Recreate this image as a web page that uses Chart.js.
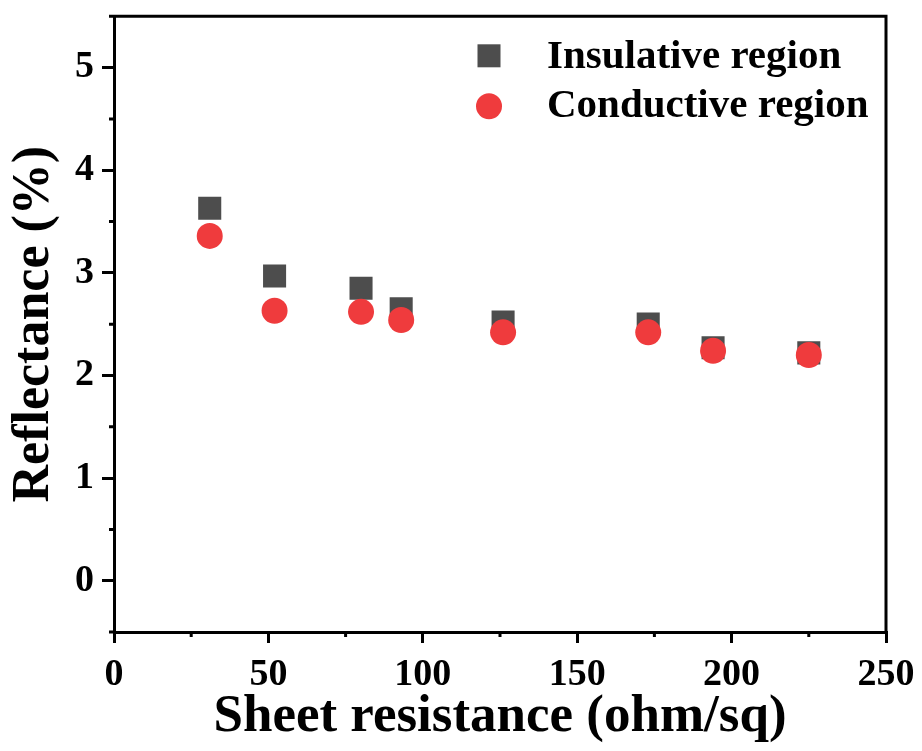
<!DOCTYPE html>
<html>
<head>
<meta charset="utf-8">
<script src="https://cdn.jsdelivr.net/npm/chart.js@4.4.0/dist/chart.umd.min.js"></script>
<style>
  html, body { margin: 0; padding: 0; background: #fff; }
  #wrap { width: 922px; height: 751px; }
</style>
</head>
<body>
<div id="wrap"><canvas id="chart" width="922" height="751"></canvas></div>
<script>
// data
const sheetRes = [31, 52, 80, 93, 126, 173, 194, 225];
const insulative = [3.63, 2.97, 2.85, 2.65, 2.52, 2.50, 2.27, 2.22];
const conductive = [3.36, 2.63, 2.62, 2.54, 2.42, 2.42, 2.24, 2.20];
const seriesNames = ["Insulative region", "Conductive region"];
const xTicks = [0, 50, 100, 150, 200, 250];
const yTicks = [0, 1, 2, 3, 4, 5];

const SERIF = "'Liberation Serif', 'DejaVu Serif', serif";
const GREY = '#4d4d4d';
const RED = '#ef3b3d';

function toPoints(xs, ys) {
    return xs.map((x, i) => ({ x: x, y: ys[i] }));
}

// top/right frame lines plus the small minor ticks
const framePlugin = {
    id: 'frame',
    afterDraw(chart) {
        const { ctx, chartArea: a, scales } = chart;
        ctx.save();
        ctx.strokeStyle = '#000';
        ctx.lineWidth = 3;
        ctx.beginPath();
        ctx.moveTo(a.left, a.top);
        ctx.lineTo(a.right, a.top);
        ctx.lineTo(a.right, a.bottom);
        ctx.stroke();

        // minor ticks halfway between majors
        ctx.beginPath();
        for (let i = 0; i < xTicks.length - 1; i++) {
            const px = scales.x.getPixelForValue((xTicks[i] + xTicks[i + 1]) / 2);
            ctx.moveTo(px, a.bottom);
            ctx.lineTo(px, a.bottom + 5);
        }
        const yMinor = [yTicks[0] - 0.5].concat(yTicks.map(v => v + 0.5));
        yMinor.forEach(v => {
            const py = scales.y.getPixelForValue(v);
            ctx.moveTo(a.left, py);
            ctx.lineTo(a.left - 5, py);
        });
        ctx.stroke();
        ctx.restore();
    }
};

// legend sitting inside the plot, top right
const legendPlugin = {
    id: 'insideLegend',
    afterDraw(chart) {
        const { ctx, chartArea: a } = chart;
        const mx = a.right - 397;
        const tx = a.right - 339;
        ctx.save();
        ctx.fillStyle = GREY;
        ctx.fillRect(mx - 11.5, a.top + 28, 23, 23);
        ctx.fillStyle = RED;
        ctx.beginPath();
        ctx.arc(mx, a.top + 90, 13, 0, Math.PI * 2);
        ctx.fill();
        ctx.fillStyle = '#000';
        ctx.font = 'bold 41px ' + SERIF;
        ctx.textBaseline = 'alphabetic';
        ctx.textAlign = 'left';
        ctx.fillText(seriesNames[0], tx, a.top + 52);
        ctx.fillText(seriesNames[1], tx, a.top + 101);
        ctx.restore();
    }
};

new Chart(document.getElementById('chart'), {
    type: 'scatter',
    data: {
        datasets: [
            {
                label: seriesNames[0],
                data: toPoints(sheetRes, insulative),
                pointStyle: 'rect',
                pointRadius: 16.3,
                backgroundColor: GREY,
                borderWidth: 0,
                order: 2
            },
            {
                label: seriesNames[1],
                data: toPoints(sheetRes, conductive),
                pointStyle: 'circle',
                pointRadius: 13,
                backgroundColor: RED,
                borderWidth: 0,
                order: 1
            }
        ]
    },
    options: {
        responsive: false,
        animation: false,
        events: [],
        layout: { padding: { top: 12, right: 36, left: 0, bottom: 0 } },
        plugins: {
            legend: { display: false },
            tooltip: { enabled: false }
        },
        scales: {
            x: {
                type: 'linear',
                min: 0,
                max: 250,
                afterFit(scale) {
                    scale.height = 119;
                    scale.paddingLeft = 0;
                    scale.paddingRight = 0;
                },
                afterBuildTicks(scale) {
                    scale.ticks = xTicks.map(v => ({ value: v }));
                },
                grid: { drawOnChartArea: false, color: '#000', lineWidth: 3, tickLength: 11 },
                border: { color: '#000', width: 3 },
                ticks: {
                    color: '#000',
                    padding: 9,
                    maxRotation: 0,
                    font: { family: SERIF, size: 38, weight: 'bold' }
                },
                title: {
                    display: true,
                    text: 'Sheet resistance (ohm/sq)',
                    color: '#000',
                    padding: { top: 0, bottom: 2 },
                    font: { family: SERIF, size: 53, weight: 'bold' }
                }
            },
            y: {
                type: 'linear',
                min: -0.5,
                max: 5.5,
                afterFit(scale) {
                    scale.width = 114;
                    scale.paddingTop = 0;
                    scale.paddingBottom = 0;
                },
                afterBuildTicks(scale) {
                    scale.ticks = yTicks.map(v => ({ value: v }));
                },
                grid: { drawOnChartArea: false, color: '#000', lineWidth: 3, tickLength: 12 },
                border: { color: '#000', width: 3 },
                ticks: {
                    color: '#000',
                    padding: 8,
                    font: { family: SERIF, size: 38, weight: 'bold' }
                },
                title: {
                    display: true,
                    text: 'Reflectance (%)',
                    color: '#000',
                    padding: { top: 3, bottom: 0 },
                    font: { family: SERIF, size: 52, weight: 'bold' }
                }
            }
        }
    },
    plugins: [framePlugin, legendPlugin]
});
</script>
</body>
</html>
